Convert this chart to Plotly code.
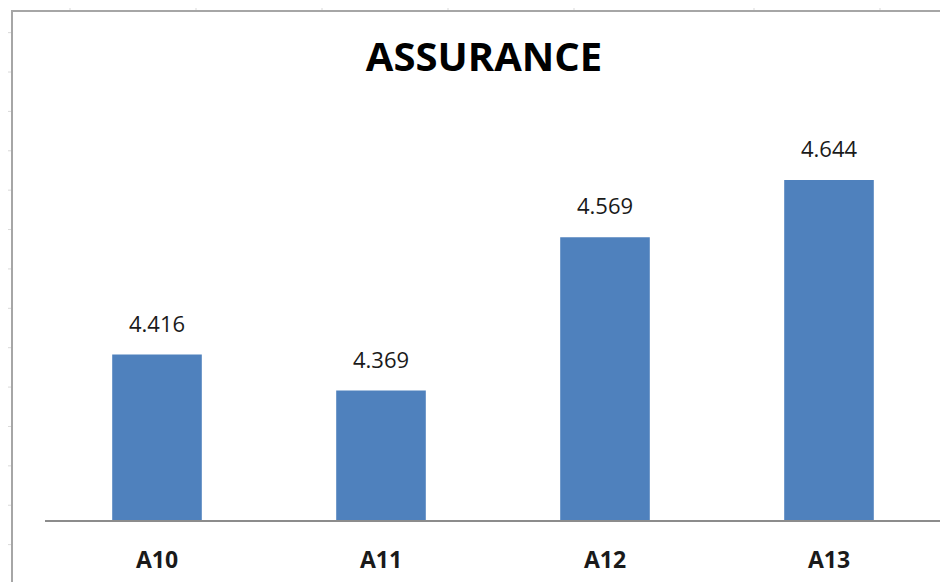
import plotly.graph_objects as go

# ---- data ----
categories = ["A10", "A11", "A12", "A13"]
values = [4.416, 4.369, 4.569, 4.644]
value_labels = ["4.416", "4.369", "4.569", "4.644"]
title_text = "ASSURANCE"

# page body has an 8px default margin; compensate
OFF = 8
W, H = 948 - OFF, 582 - OFF
ML, MR, MT, MB = 45 - OFF, 15 - OFF, 129, 56
PW, PH = W - ML - MR, H - MT - MB


def px(x):
    return (x - OFF - ML) / PW


def py(y):
    return 1 - (y - OFF - MT) / PH


fig = go.Figure()
fig.add_trace(go.Bar(
    x=categories, y=values,
    marker=dict(color="#4f81bd", line=dict(width=0)),
    hoverinfo="skip",
))

annotations = []
for c, v, t in zip(categories, values, value_labels):
    annotations.append(dict(
        x=c, y=v, xref="x", yref="y", text=t, showarrow=False,
        yshift=32, yanchor="middle",
        font=dict(family="Open Sans", size=22, color="#1a1a1a"),
    ))

shapes = []
grid_col = "#d9d9d9"
# spreadsheet grid stubs outside chart
for gx in [70, 196, 322, 448, 574, 754, 880]:
    shapes.append(dict(type="line", xref="paper", yref="paper",
                       x0=px(gx), x1=px(gx), y0=py(3), y1=py(9),
                       line=dict(color=grid_col, width=1)))
for gy in range(31, 582, 40):
    shapes.append(dict(type="line", xref="paper", yref="paper",
                       x0=px(0), x1=px(11), y0=py(gy), y1=py(gy),
                       line=dict(color=grid_col, width=1)))
# chart border (left + top)
shapes.append(dict(type="line", xref="paper", yref="paper",
                   x0=px(12), x1=px(12), y0=py(8), y1=py(590),
                   line=dict(color="#a6a6a6", width=2)))
shapes.append(dict(type="line", xref="paper", yref="paper",
                   x0=px(11), x1=px(960), y0=py(9), y1=py(9),
                   line=dict(color="#a6a6a6", width=2)))

fig.update_layout(
    width=W, height=H,
    margin=dict(l=ML, r=MR, t=MT, b=MB, pad=0),
    paper_bgcolor="white", plot_bgcolor="white",
    bargap=0.6,
    showlegend=False,
    title=dict(text="<b>" + title_text + "</b>", x=(484 - OFF) / W, xanchor="center",
               y=1 - (57 - OFF) / H, yanchor="middle", yref="container",
               font=dict(family="Open Sans", size=40, color="#000000")),
    xaxis=dict(showline=True, linecolor="#8c8c8c", linewidth=2,
               showgrid=False, zeroline=False, ticks="",
               ticklabelstandoff=18,
               tickfont=dict(family="Open Sans", size=23, color="#1a1a1a", weight="bold")),
    yaxis=dict(range=[4.2, 4.7], visible=False, showgrid=False, zeroline=False),
    annotations=annotations,
    shapes=shapes,
)

fig.write_html("out.html")
